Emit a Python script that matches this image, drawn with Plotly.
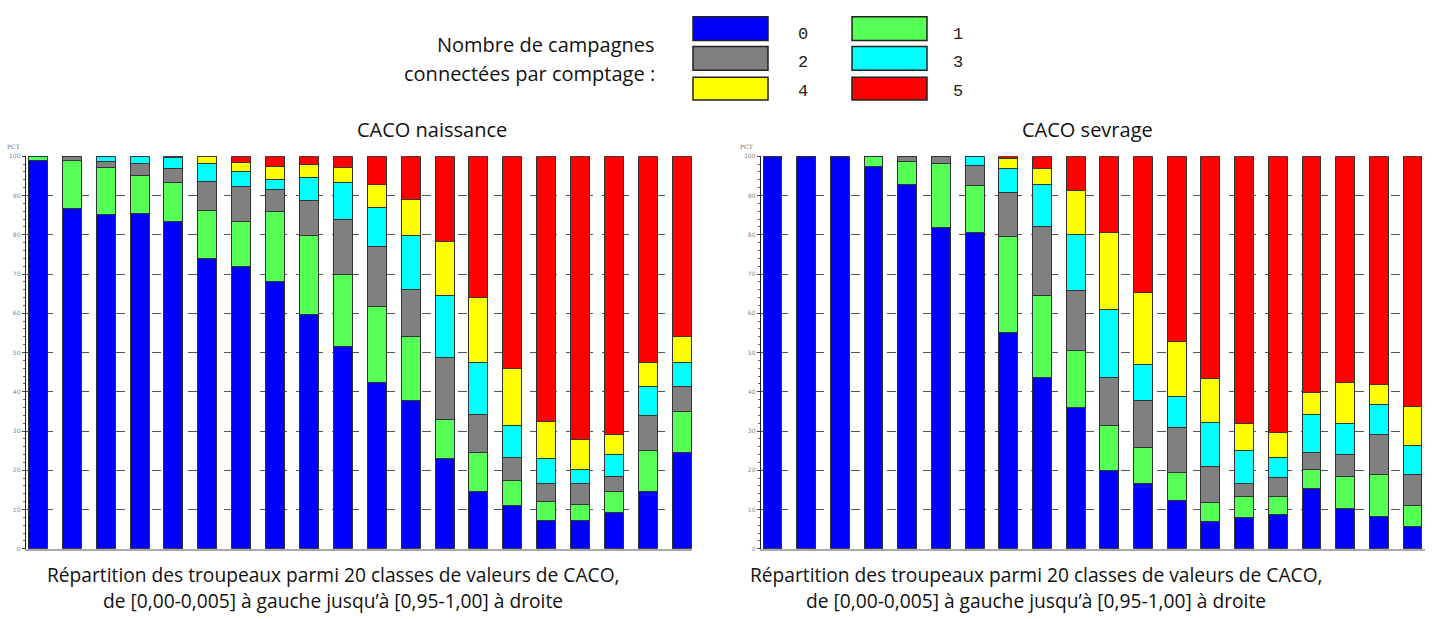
import plotly.graph_objects as go

classes = [f"C{i}" for i in range(1, 21)]

# Left chart: CACO naissance (segment values, %)
nai_0 = [98.8, 86.7, 85.2, 85.5, 83.3, 73.9, 71.9, 68.2, 59.6, 51.5, 42.3, 37.7, 23.0, 14.6, 11.1, 7.1, 7.3, 9.2, 14.6, 24.5]
nai_1 = [1.2, 12.3, 11.9, 9.5, 10.1, 12.2, 11.6, 17.8, 20.2, 18.5, 19.5, 16.4, 9.9, 9.9, 6.3, 4.9, 4.0, 5.5, 10.4, 10.5]
nai_2 = [0, 1.0, 1.6, 3.1, 3.6, 7.5, 8.8, 5.6, 9.0, 13.9, 15.3, 12.0, 15.8, 9.7, 5.9, 4.7, 5.4, 3.7, 8.9, 6.3]
nai_3 = [0, 0, 1.3, 1.9, 2.7, 4.5, 3.8, 2.6, 5.7, 9.3, 9.8, 13.6, 15.9, 13.3, 8.0, 6.3, 3.6, 5.6, 7.4, 6.2]
nai_4 = [0, 0, 0, 0, 0.3, 1.9, 2.4, 3.1, 3.3, 3.9, 6.0, 9.4, 13.6, 16.4, 14.6, 9.3, 7.5, 5.2, 6.2, 6.5]
nai_5 = [0, 0, 0, 0, 0, 0, 1.5, 2.7, 2.2, 2.9, 7.1, 10.9, 21.8, 36.1, 54.1, 67.7, 72.2, 70.8, 52.5, 46.0]

# Right chart: CACO sevrage (segment values, %)
sev_0 = [100, 100, 100, 97.4, 92.9, 81.8, 80.5, 55.2, 43.7, 36.1, 19.9, 16.7, 12.4, 7.0, 7.9, 8.8, 15.4, 10.3, 8.1, 5.6]
sev_1 = [0, 0, 0, 2.6, 5.8, 16.4, 12.1, 24.4, 20.7, 14.4, 11.4, 9.0, 7.0, 4.9, 5.4, 4.4, 4.8, 8.0, 10.9, 5.5]
sev_2 = [0, 0, 0, 0, 1.3, 1.8, 5.1, 11.1, 17.7, 15.2, 12.4, 12.1, 11.4, 9.0, 3.4, 4.9, 4.3, 5.8, 10.0, 7.9]
sev_3 = [0, 0, 0, 0, 0, 0, 2.3, 6.1, 10.7, 14.3, 17.2, 9.2, 8.1, 11.2, 8.4, 5.1, 9.6, 7.9, 7.8, 7.3]
sev_4 = [0, 0, 0, 0, 0, 0, 0, 2.7, 4.0, 11.3, 19.8, 18.3, 14.0, 11.4, 6.7, 6.3, 5.7, 10.4, 5.1, 9.9]
sev_5 = [0, 0, 0, 0, 0, 0, 0, 0.5, 3.2, 8.7, 19.3, 34.7, 47.1, 56.5, 68.2, 70.5, 60.2, 57.6, 58.1, 63.8]

series_names = ["0", "1", "2", "3", "4", "5"]
colors = ["#0000FF", "#55FF55", "#808080", "#00FFFF", "#FFFF00", "#FF0000"]

nai = [nai_0, nai_1, nai_2, nai_3, nai_4, nai_5]
sev = [sev_0, sev_1, sev_2, sev_3, sev_4, sev_5]

fig = go.Figure()
for vals, name, col in zip(nai, series_names, colors):
    fig.add_trace(go.Bar(x=classes, y=vals, name=name, marker=dict(color=col, line=dict(color="#333333", width=1)),
                         xaxis="x", yaxis="y", showlegend=False))
for vals, name, col in zip(sev, series_names, colors):
    fig.add_trace(go.Bar(x=classes, y=vals, name=name, marker=dict(color=col, line=dict(color="#333333", width=1)),
                         xaxis="x2", yaxis="y2", showlegend=False))

W, H = 1438, 619
def px(x):
    return x / W
def py(y):
    return 1 - y / H

yax = dict(range=[0, 100], tickvals=list(range(0, 101, 10)), showgrid=True, gridcolor="#555555", griddash="dash",
           gridwidth=1, zeroline=False, showline=True, linecolor="#222222", linewidth=1, ticks="outside",
           ticklen=3, tickcolor="#444444", tickfont=dict(size=6, color="#888888", family="DejaVu Sans"),
           minor=dict(dtick=2, ticks="outside", ticklen=2, tickcolor="#666666", showgrid=False),
           fixedrange=True)
xax = dict(showticklabels=False, showgrid=False, zeroline=False, showline=True, linecolor="#aaaaaa", linewidth=2,
           ticks="", range=[-0.36, 19.3])

fig.update_layout(
    width=W, height=H, barmode="stack", bargap=0.44,
    plot_bgcolor="white", paper_bgcolor="white",
    margin=dict(l=0, r=0, t=0, b=0),
    xaxis=dict(domain=[px(25.7), px(692)], anchor="y", **xax),
    yaxis=dict(domain=[py(551), py(154)], anchor="x", **yax),
    xaxis2=dict(domain=[px(760.7), px(1425)], anchor="y2", **{**xax, "range": [-0.35, 19.37]}),
    yaxis2=dict(domain=[py(551), py(154)], anchor="x2", **yax),
    font=dict(family="Open Sans"),
)

ann = []
def tfont(size):
    return dict(family="Open Sans", size=size, color="#111111")
ann.append(dict(text="CACO naissance", x=px(432), y=py(127), xref="paper", yref="paper", showarrow=False,
                font=tfont(20), xanchor="center", yanchor="middle"))
ann.append(dict(text="CACO sevrage", x=px(1087), y=py(127), xref="paper", yref="paper", showarrow=False,
                font=tfont(20), xanchor="center", yanchor="middle"))
for cx in (333, 1036):
    ann.append(dict(text="Répartition des troupeaux parmi 20 classes de valeurs de CACO,", x=px(cx), y=py(577),
                    xref="paper", yref="paper", showarrow=False, font=tfont(19.2), xanchor="center", yanchor="middle"))
    ann.append(dict(text="de [0,00-0,005] à gauche jusqu’à [0,95-1,00] à droite", x=px(cx), y=py(603),
                    xref="paper", yref="paper", showarrow=False, font=tfont(19.2), xanchor="center", yanchor="middle"))
ann.append(dict(text="Nombre de campagnes", x=px(657), y=py(41), xref="paper", yref="paper", showarrow=False,
                font=tfont(20), xanchor="right", yanchor="middle"))
ann.append(dict(text="connectées par comptage :", x=px(657), y=py(70), xref="paper", yref="paper", showarrow=False,
                font=tfont(20), xanchor="right", yanchor="middle"))
for xx in (13, 746):
    ann.append(dict(text="PCT", x=px(xx), y=py(144), xref="paper", yref="paper", showarrow=False,
                    font=dict(family="DejaVu Serif", size=6, color="#666666"), xanchor="center", yanchor="middle"))

# legend boxes
shapes = []
box_x = [(693, 768), (852, 927)]
box_y = [(13, 37), (43, 67), (74, 97)]
label_x = [803, 958]
label_y = [31, 59, 89]
order = [[0, 1], [2, 3], [4, 5]]
for r in range(3):
    for c in range(2):
        k = order[r][c]
        x0, x1 = box_x[c]
        y0, y1 = box_y[r]
        shapes.append(dict(type="rect", xref="paper", yref="paper", x0=px(x0), x1=px(x1), y0=py(y1), y1=py(y0),
                           fillcolor=colors[k], line=dict(color="#222222", width=1.5)))
        ann.append(dict(text=series_names[k], x=px(label_x[c]), y=py(label_y[r]), xref="paper", yref="paper",
                        showarrow=False, font=dict(family="Liberation Mono", size=17, color="#222222"),
                        xanchor="center", yanchor="middle"))

fig.update_layout(annotations=ann, shapes=shapes)
fig.write_html("out.html", config={"displayModeBar": False},
               post_script="document.body.style.margin='0';document.body.style.overflow='hidden';")
